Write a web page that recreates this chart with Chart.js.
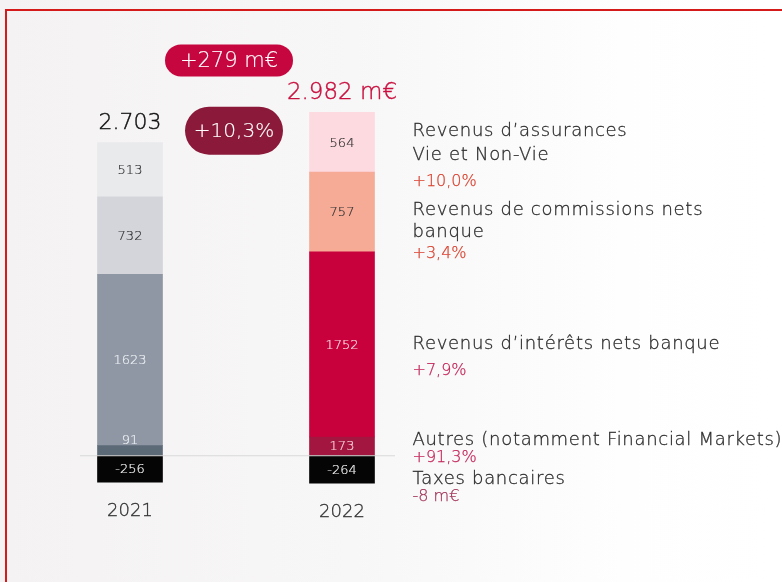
<!DOCTYPE html>
<html lang="fr">
<head>
<meta charset="utf-8">
<title>Revenus 2021-2022</title>
<script src="https://cdn.jsdelivr.net/npm/chart.js@4.4.1/dist/chart.umd.min.js"></script>
<style>
  html, body { margin: 0; padding: 0; overflow: hidden; }
  body {
    width: 782px; height: 582px; position: relative;
    background: linear-gradient(90deg, #f4f2f2 0%, #f8f7f7 45%, #fefefe 80%, #ffffff 100%);
  }
  .trait { position: absolute; background: #d41a1a; }
  #haut { left: 5px; top: 9px; width: 777px; height: 2px; }
  #gauche { left: 5px; top: 9px; width: 2px; height: 573px; }
  #zone { position: absolute; left: 0; top: 0; width: 782px; height: 582px; }
</style>
</head>
<body>
<div class="trait" id="haut"></div>
<div class="trait" id="gauche"></div>
<div id="zone"><canvas id="revenusChart" width="782" height="582"></canvas></div>
<script>
// Données (m€)
const categories = ['2021', '2022'];
const autres = [91, 173];
const interets = [1623, 1752];
const commissions = [732, 757];
const assurances = [513, 564];
const taxes = [-256, -264];

// Textes de la légende de droite
const nomsAssurances = ['Revenus d’assurances', 'Vie et Non-Vie'];
const nomsCommissions = ['Revenus de commissions nets', 'banque'];
const nomsInterets = ['Revenus d’intérêts nets banque'];
const nomsAutres = ['Autres (notamment Financial Markets)'];
const nomsTaxes = ['Taxes bancaires'];
const variations = ['+10,0%', '+3,4%', '+7,9%', '+91,3%', '-8 m€'];
const unitesTotal = ['', ' m€'];

const police = '"DejaVu Sans", sans-serif';

function milliers(n) {
  return String(n).replace(/\B(?=(\d{3})+(?!\d))/g, '.');
}

// Totaux par année
const totaux = categories.map((c, i) =>
  autres[i] + interets[i] + commissions[i] + assurances[i] + taxes[i]);

// Styles des segments : [couleur 2021, couleur 2022]
const styles = {
  autres:      { fond: ['#5c6a78', '#a3163f'], texte: ['#eef0f3', '#f7d3dc'] },
  interets:    { fond: ['#8e97a3', '#c8003c'], texte: ['#eceef2', '#f6dbe3'] },
  commissions: { fond: ['#d3d5da', '#f5ab96'], texte: ['#333333', '#333333'] },
  assurances:  { fond: ['#e8eaec', '#fdd9e0'], texte: ['#333333', '#333333'] },
  taxes:       { fond: ['#050505', '#050505'], texte: ['#f2f2f2', '#f2f2f2'] }
};

function serie(label, data, cle, noms, variation, couleurVar, decalage) {
  return {
    label: label,
    data: data,
    backgroundColor: styles[cle].fond,
    couleursTexte: styles[cle].texte,
    noms: noms,
    variation: variation,
    couleurVar: couleurVar,
    decalage: decalage,
    stack: 'revenus',
    barThickness: 65,
    borderWidth: 0
  };
}

// Position des blocs de texte à droite : [décalage 1re ligne, interligne, écart variation]
const datasets = [
  serie('Autres', autres, 'autres', nomsAutres, variations[3], '#c22458', [-6, 20, 18]),
  serie('Revenus d’intérêts nets banque', interets, 'interets', nomsInterets, variations[2], '#c22458', [0, 22, 26]),
  serie('Revenus de commissions nets banque', commissions, 'commissions', nomsCommissions, variations[1], '#d8402f', [-2, 22, 22]),
  serie('Revenus d’assurances Vie et Non-Vie', assurances, 'assurances', nomsAssurances, variations[0], '#d8402f', [-11, 24, 27]),
  serie('Taxes bancaires', taxes, 'taxes', nomsTaxes, variations[4], '#a1345a', [10, 20, 18])
];

// texte fin légèrement épaissi
function ecrire(ctx, texte, x, y, taille, couleur, espace, epais) {
  ctx.font = '200 ' + taille + 'px ' + police;
  ctx.letterSpacing = (espace || 0) + 'px';
  ctx.fillStyle = couleur;
  ctx.strokeStyle = couleur;
  ctx.lineWidth = epais || 0;
  ctx.fillText(texte, x, y);
  if (epais) ctx.strokeText(texte, x, y);
  ctx.letterSpacing = '0px';
}

function pilule(ctx, cx, cy, w, h, couleur, texte, taille) {
  const r = h / 2;
  ctx.save();
  ctx.fillStyle = couleur;
  ctx.beginPath();
  ctx.moveTo(cx - w / 2 + r, cy - r);
  ctx.lineTo(cx + w / 2 - r, cy - r);
  ctx.arc(cx + w / 2 - r, cy, r, -Math.PI / 2, Math.PI / 2);
  ctx.lineTo(cx - w / 2 + r, cy + r);
  ctx.arc(cx - w / 2 + r, cy, r, Math.PI / 2, Math.PI * 1.5);
  ctx.closePath();
  ctx.fill();
  ctx.textAlign = 'center';
  ctx.textBaseline = 'middle';
  ecrire(ctx, texte, cx, cy + 1, taille, '#ffffff', 0, 0.15);
  ctx.restore();
}

const annotations = {
  id: 'annotations',
  afterDatasetsDraw(chart) {
    const ctx = chart.ctx;
    const yAxe = chart.scales.y;
    const zero = yAxe.getPixelForValue(0);

    // ligne du zéro
    ctx.save();
    ctx.strokeStyle = '#d9d9d9';
    ctx.lineWidth = 1;
    ctx.beginPath();
    ctx.moveTo(80, zero + 0.5);
    ctx.lineTo(395, zero + 0.5);
    ctx.stroke();
    ctx.restore();

    ctx.save();
    ctx.textAlign = 'center';
    ctx.textBaseline = 'middle';

    // valeurs dans les segments
    chart.data.datasets.forEach((ds, d) => {
      const meta = chart.getDatasetMeta(d);
      meta.data.forEach((bar, i) => {
        const p = bar.getProps(['x', 'y', 'base'], true);
        const haut = Math.abs(p.base - p.y);
        let cy = (p.y + p.base) / 2;
        if (haut < 12) cy = Math.min(p.y, p.base) - 6;
        ecrire(ctx, String(ds.data[i]), p.x, cy + 1, 13, ds.couleursTexte[i], 0, 0.2);
      });
    });

    // totaux au-dessus des barres et années en dessous
    const metaHaut = chart.getDatasetMeta(3);
    const metaBas = chart.getDatasetMeta(4);
    categories.forEach((c, i) => {
      const haut = metaHaut.data[i].getProps(['x', 'y'], true);
      const bas = metaBas.data[i].getProps(['y'], true);
      ecrire(ctx, milliers(totaux[i]) + unitesTotal[i], haut.x, haut.y - 19,
        i === 0 ? 22 : 23, i === 0 ? '#111111' : '#c8103f', 0, 0.4);
      ecrire(ctx, c, haut.x, bas.y + 29, 18, '#333333', 0, 0.3);
    });

    // pastilles d'évolution
    const hautA = metaHaut.data[0].getProps(['x', 'y'], true);
    const hautB = metaHaut.data[1].getProps(['x', 'y'], true);
    const milieu = (hautA.x + hautB.x) / 2;
    const ecart = totaux[1] - totaux[0];
    const pct = (ecart / totaux[0] * 100).toFixed(1).replace('.', ',');
    pilule(ctx, milieu - 7, hautB.y - 52, 128, 32, '#c5063f', '+' + ecart + ' m€', 21);
    pilule(ctx, milieu - 2, hautA.y - 12, 98, 48, '#8b1a3a', '+' + pct + '%', 20);

    // légende de droite, alignée sur les segments 2022
    ctx.textAlign = 'left';
    chart.data.datasets.forEach((ds, d) => {
      const p = chart.getDatasetMeta(d).data[1].getProps(['x', 'y', 'base'], true);
      const x = p.x + 32.5 + 38;
      let y = (p.y + p.base) / 2 + ds.decalage[0];
      ds.noms.forEach((ligne, k) => {
        if (k > 0) y += ds.decalage[1];
        ecrire(ctx, ligne, x, y, 18, '#2c2c2c', 0.7, 0.3);
      });
      ecrire(ctx, ds.variation, x, y + ds.decalage[2], 16, ds.couleurVar, 0, 0.25);
    });
    ctx.restore();
  }
};

new Chart(document.getElementById('revenusChart'), {
  type: 'bar',
  data: { labels: categories, datasets: datasets },
  options: {
    responsive: false,
    animation: false,
    layout: { padding: { left: 24, right: 334, top: 0, bottom: 0 } },
    plugins: { legend: { display: false }, tooltip: { enabled: false } },
    scales: {
      x: { stacked: true, display: false },
      y: { stacked: true, display: false, min: -1200, max: 4310 }
    }
  },
  plugins: [annotations]
});
</script>
</body>
</html>
